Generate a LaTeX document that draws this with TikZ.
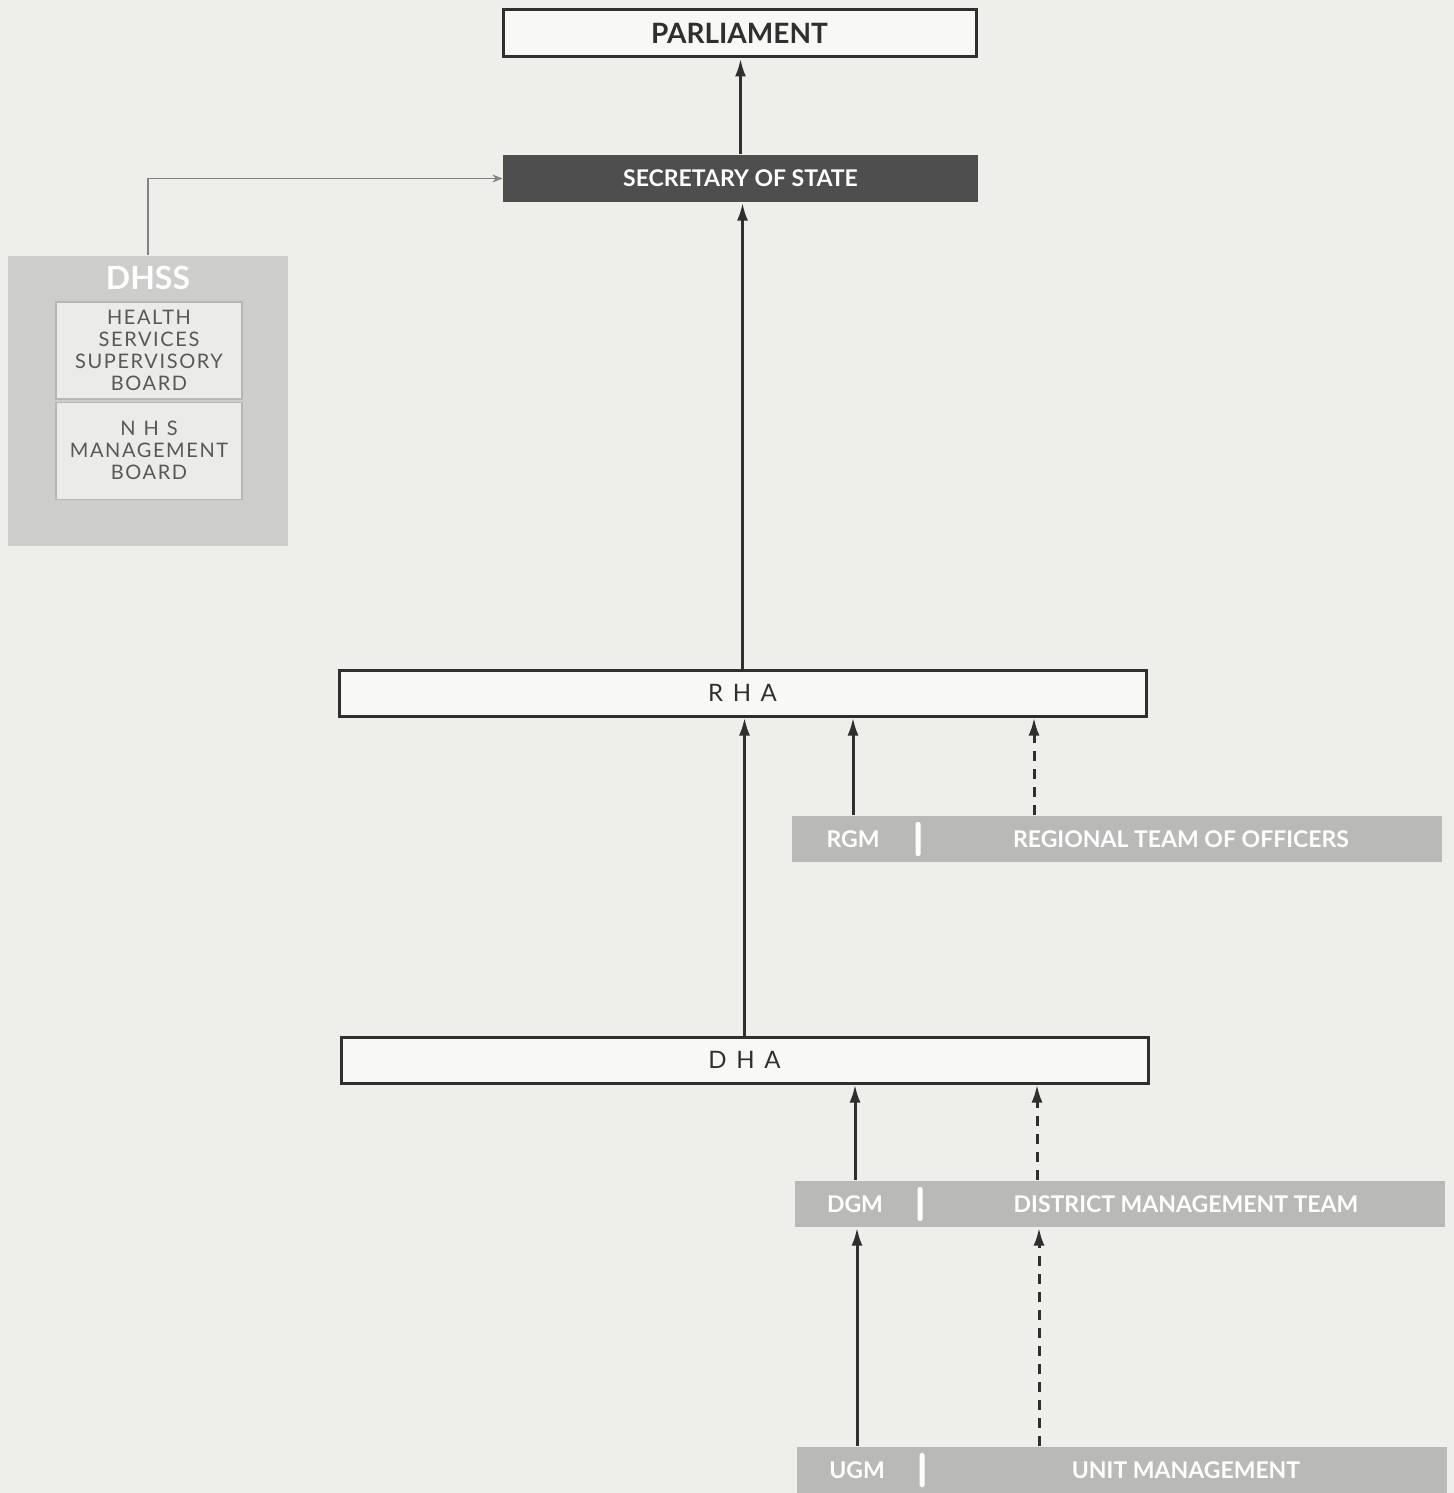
\documentclass[tikz,border=0pt]{standalone}
\usepackage{fontspec}
\setmainfont{Lato}
\newfontfamily\widefont[LetterSpace=40]{Lato}
\newfontfamily\softwide[LetterSpace=8]{Lato}
\usetikzlibrary{arrows.meta}
\usetikzlibrary{calc}
\usetikzlibrary{positioning}
\definecolor{paper}{HTML}{EEEEEB}
\definecolor{ink}{HTML}{2F2F2F}
\definecolor{darkfill}{HTML}{4E4E4E}
\definecolor{bandfill}{HTML}{B9B9B7}
\definecolor{dhssfill}{HTML}{CDCDCB}
\definecolor{innerfill}{HTML}{EBEBE9}

\begin{document}
\begin{tikzpicture}[x=0.5pt,y=-0.5pt,>={Latex[length=9pt,width=5.5pt]},semithick]
 \tikzstyle{topbox}=[draw=ink, line width=1.5pt, fill=paper!40!white, minimum width=236.5pt, minimum height=23.5pt, inner sep=0pt, text=ink, font=\bfseries\fontsize{14}{16}\selectfont]
 \tikzstyle{darkbox}=[fill=darkfill, minimum width=237.5pt, minimum height=23.5pt, inner sep=0pt, text=white, font=\bfseries\fontsize{11.5}{13}\selectfont]
 \tikzstyle{authbox}=[draw=ink, line width=1.5pt, fill=paper!40!white, minimum width=403.5pt, minimum height=23pt, inner sep=0pt, text=ink, font=\widefont\fontsize{12}{14}\selectfont]
 \tikzstyle{band}=[fill=bandfill, minimum width=325pt, minimum height=23pt, inner sep=0pt]
 \tikzstyle{bandtext}=[text=white, inner sep=0pt, font=\bfseries\fontsize{11.5}{13}\selectfont]
 \tikzstyle{bar}=[fill=white, rounded corners=1pt, minimum width=2.5pt, minimum height=17pt, inner sep=0pt]
 \tikzstyle{dhssbox}=[fill=dhssfill, minimum width=140pt, minimum height=145pt, inner sep=0pt]
 \tikzstyle{innerbox}=[fill=innerfill, draw=ink!35, minimum width=93pt, minimum height=48.5pt, inner sep=0pt, align=center, text=ink!80, font=\softwide\fontsize{10}{11}\selectfont]
 \tikzstyle{link}=[draw=ink, line width=1.5pt, ->]
 \tikzstyle{dashlink}=[link, dash pattern=on 5pt off 4pt]

 \fill[paper] (0,0) rectangle (1454,1493);

 % top of the chain
 \node[topbox]  (parl) at (739.5,33.5) {PARLIAMENT};
 \node[darkbox] (sos)  at (740.5,178.5) {SECRETARY OF STATE};

 % DHSS block
 \node[dhssbox] (dhss) at (148,401) {};
 \node[text=white, font=\bfseries\fontsize{16}{18}\selectfont] (dhsslbl) at (148,278) {DHSS};
 \node[innerbox] (hssb) at (149,350.5) {HEALTH\\SERVICES\\SUPERVISORY\\BOARD};
 \node[innerbox] (nmb) [below=1pt of hssb] {{\widefont NHS}\\MANAGEMENT\\BOARD};

 % authorities
 \node[authbox] (rha) at (742.5,693) {RHA};
 \node[authbox] (dha) at (744.5,1060) {DHA};

 % management bands
 \node[band] (rgmband) at (1117,839) {};
 \node[bandtext] (rgm) at (853,839) {RGM};
 \node[bar] (rgmbar) at (918,839) {};
 \node[bandtext] (rto) at (1181,839) {REGIONAL TEAM OF OFFICERS};
 \coordinate (rtoline) at (1034,839);

 \node[band] (dgmband) at (1120,1204) {};
 \node[bandtext] (dgm) at (855,1204) {DGM};
 \node[bar] (dgmbar) at (920,1204) {};
 \node[bandtext] (dmt) at (1186,1204) {DISTRICT MANAGEMENT TEAM};
 \coordinate (dmtline) at (1037,1204);

 \node[band] (ugmband) at (1122,1470) {};
 \node[bandtext] (ugm) at (857,1470) {UGM};
 \node[bar] (ugmbar) at (922,1470) {};
 \node[bandtext] (um) at (1186,1470) {UNIT MANAGEMENT};
 \coordinate (umline) at (1039,1470);

 \path
   (sos.north) edge[link] (sos.north |- parl.south)
   (rha.north) edge[link] (rha.north |- sos.south)
   (dha.north) edge[link] (dha.north |- rha.south)
   (rgmband.north -| rgm) edge[link] (rha.south -| rgm)
   (dgmband.north -| dgm) edge[link] (dha.south -| dgm)
   (ugmband.north -| ugm) edge[link] (dgmband.south -| ugm)
   (rgmband.north -| rtoline) edge[dashlink] (rha.south -| rtoline)
   (dgmband.north -| dmtline) edge[dashlink] (dha.south -| dmtline)
   (ugmband.north -| umline) edge[dashlink] (dgmband.south -| umline);

 \draw[ink!60, line width=0.7pt, -{Stealth[open,length=5pt,width=4pt]}] (dhss.north) |- (sos.west);
\end{tikzpicture}
\end{document}
